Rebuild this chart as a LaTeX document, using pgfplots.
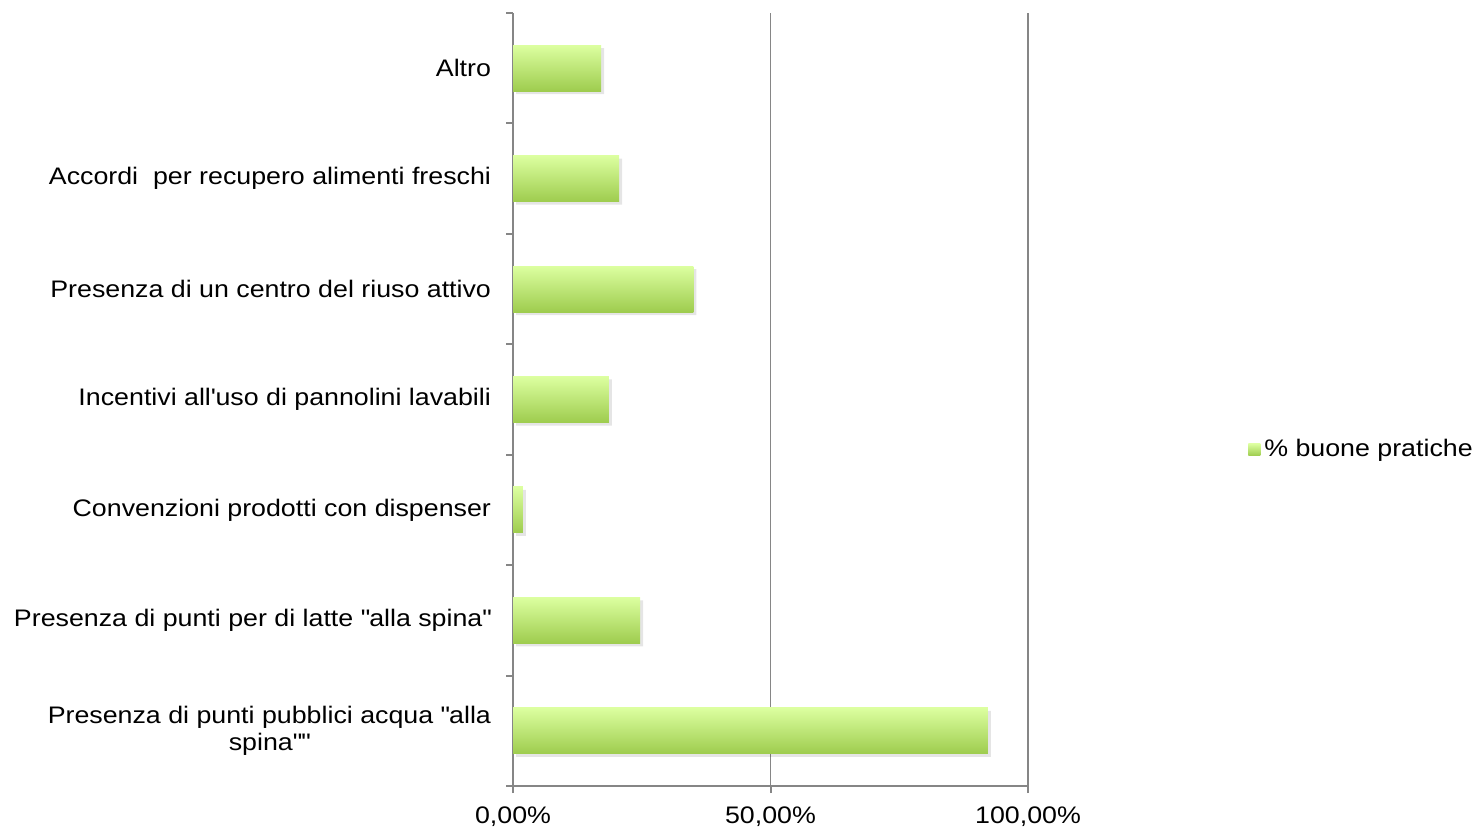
\documentclass[border=0pt]{standalone}
\usepackage{pgfplots}
\pgfplotsset{compat=1.18}
\usepackage{fontspec}
\setmainfont{Liberation Sans}[FakeStretch=1.12]
\definecolor{axgray}{RGB}{134,134,134}
\definecolor{barlight}{RGB}{220,255,160}
\definecolor{barmid}{RGB}{200,238,130}
\definecolor{bardark}{RGB}{158,204,78}
\pgfplotsset{
  shadowbar/.style={xbar, bar width=0.417, bar shift=0pt, draw=none, fill=black,
    fill opacity=0.10, xshift=1.5bp, yshift=-1.5bp, forget plot},
  greenbar/.style={xbar, bar width=0.417, bar shift=0pt, draw=none,
    top color=barlight, middle color=barmid, bottom color=bardark},
}
\begin{document}
\begin{tikzpicture}
\useasboundingbox (0,0) rectangle (740bp,415.5bp);
\begin{axis}[
  at={(256.5bp,22.5bp)}, anchor=south west,
  scale only axis, width=257.5bp, height=386.5bp,
  xmin=0, xmax=100, ymin=-0.5, ymax=6.5,
  axis x line*=bottom, axis y line*=left,
  axis line style={axgray, line width=1bp, -},
  xtick={0,50,100},
  xticklabels={{0,00\%},{50,00\%},{100,00\%}},
  xmajorgrids, grid style={axgray, line width=0.9bp},
  tick style={axgray, line width=1bp},
  tick align=outside,
  major tick length=3.5bp,
  ytick={0,...,6},
  ytick style={draw=none},
  yticklabels={{Presenza di punti pubblici acqua \textquotedbl alla\\spina\textquotedbl\textquotedbl},
    {Presenza di punti per di latte \textquotedbl alla spina\textquotedbl},
    {Convenzioni prodotti con dispenser},
    {Incentivi all\textquotesingle uso di pannolini lavabili},
    {Presenza di un centro del riuso attivo},
    {Accordi\ \ per recupero alimenti freschi},
    {Altro}},
  yticklabel style={align=center, font=\fontsize{12}{14}\selectfont, xshift=-4bp},
  xticklabel style={font=\fontsize{12}{14}\selectfont, yshift=-3.5bp},
  extra y ticks={-0.5,0.5,...,6.5},
  extra y tick labels={},
  extra y tick style={ytick style={draw=axgray}, ymajorgrids=false},
  legend style={draw=none, at={(1.427,0.435)}, anchor=west,
    font=\fontsize{12}{14}\selectfont, inner sep=0pt},
  legend cell align=left,
  clip=false,
]
\addplot[shadowbar] coordinates {(92.2,0) (24.7,1) (1.9,2) (18.6,3) (35.0,4) (20.6,5) (17.1,6)};
\addplot[greenbar,
  legend image code/.code={\shade[top color=barlight, bottom color=bardark]
    (0bp,-3bp) rectangle (6bp,3bp);}] coordinates {(92.2,0)};
\addplot[greenbar, forget plot] coordinates {(24.7,1)};
\addplot[greenbar, forget plot] coordinates {(1.9,2)};
\addplot[greenbar, forget plot] coordinates {(18.6,3)};
\addplot[greenbar, forget plot] coordinates {(35.0,4)};
\addplot[greenbar, forget plot] coordinates {(20.6,5)};
\addplot[greenbar, forget plot] coordinates {(17.1,6)};
\legend{\% buone pratiche}
\end{axis}
\end{tikzpicture}
\end{document}
